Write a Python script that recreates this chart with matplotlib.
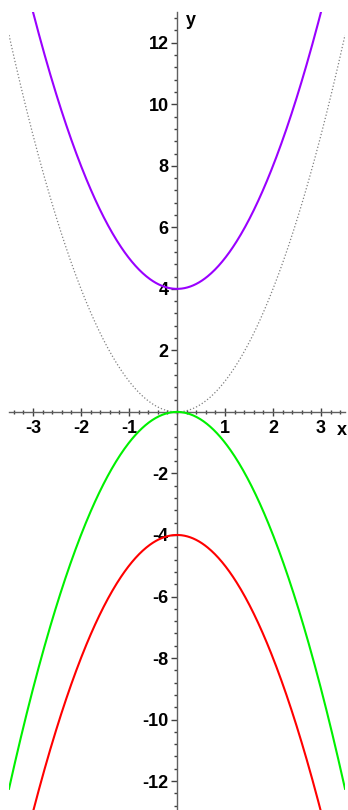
import numpy as np
import matplotlib
matplotlib.use("Agg")
import matplotlib.pyplot as plt
from matplotlib.ticker import MultipleLocator, FixedLocator

# Parabolas y = a*x^2 + c
curve_names = ["x^2", "x^2+4", "-x^2", "-x^2-4"]
lead_coef = [1, 1, -1, -1]
offsets = [0, 4, 0, -4]
x_starts = [-3.5, -3.0, -3.5, -3.0]
x_ends = [3.5, 3.0, 3.5, 3.0]
colors = ["#808080", "#9A00FF", "#00F000", "#FF0000"]
styles = [":", "-", "-", "-"]
widths = [0.9, 1.5, 1.5, 1.5]

x_ticks = [-3, -2, -1, 1, 2, 3]
y_ticks = [-12, -10, -8, -6, -4, -2, 2, 4, 6, 8, 10, 12]

W, H = 348, 810
fig = plt.figure(figsize=(W / 100, H / 100), dpi=100)
ax = fig.add_axes([9 / W, 0, 336 / W, 798 / H])
ax.set_xlim(-3.5, 3.5)
ax.set_ylim(-12.94, 13)

for a, c, x0, x1, col, ls, lw in zip(lead_coef, offsets, x_starts, x_ends, colors, styles, widths):
    xs = np.linspace(x0, x1, 400)
    ax.plot(xs, a * xs ** 2 + c, color=col, linestyle=ls, linewidth=lw, zorder=3)

for s in ["top", "right"]:
    ax.spines[s].set_visible(False)
ax.spines["left"].set_position(("data", 0))
ax.spines["bottom"].set_position(("data", 0))
for s in ["left", "bottom"]:
    ax.spines[s].set_color("#606060")
    ax.spines[s].set_linewidth(1.0)

font = dict(family="Liberation Sans", weight="bold", size=13)
ax.xaxis.set_major_locator(FixedLocator(x_ticks))
ax.yaxis.set_major_locator(FixedLocator(y_ticks))
ax.xaxis.set_minor_locator(MultipleLocator(0.2))
ax.yaxis.set_minor_locator(MultipleLocator(0.4))
ax.set_xticklabels([str(v) for v in x_ticks], fontdict=font)
ax.set_yticklabels([str(v) for v in y_ticks], fontdict=font)
ax.tick_params(axis="x", which="major", direction="inout", length=6, width=1, color="#404040", pad=3)
ax.tick_params(axis="x", which="minor", direction="inout", length=3, width=1, color="#404040")
ax.tick_params(axis="y", which="major", direction="out", length=4, width=1, color="#404040", pad=2)
ax.tick_params(axis="y", which="minor", direction="out", length=2.5, width=1, color="#404040")

ax.text(0.18, 13, "y", fontdict=dict(family="Liberation Sans", weight="bold", size=13),
        ha="left", va="top")
ax.text(3.34, -0.33, "x", fontdict=dict(family="Liberation Sans", weight="bold", size=13),
        ha="left", va="top", clip_on=False)

fig.savefig("out.png", dpi=100)
